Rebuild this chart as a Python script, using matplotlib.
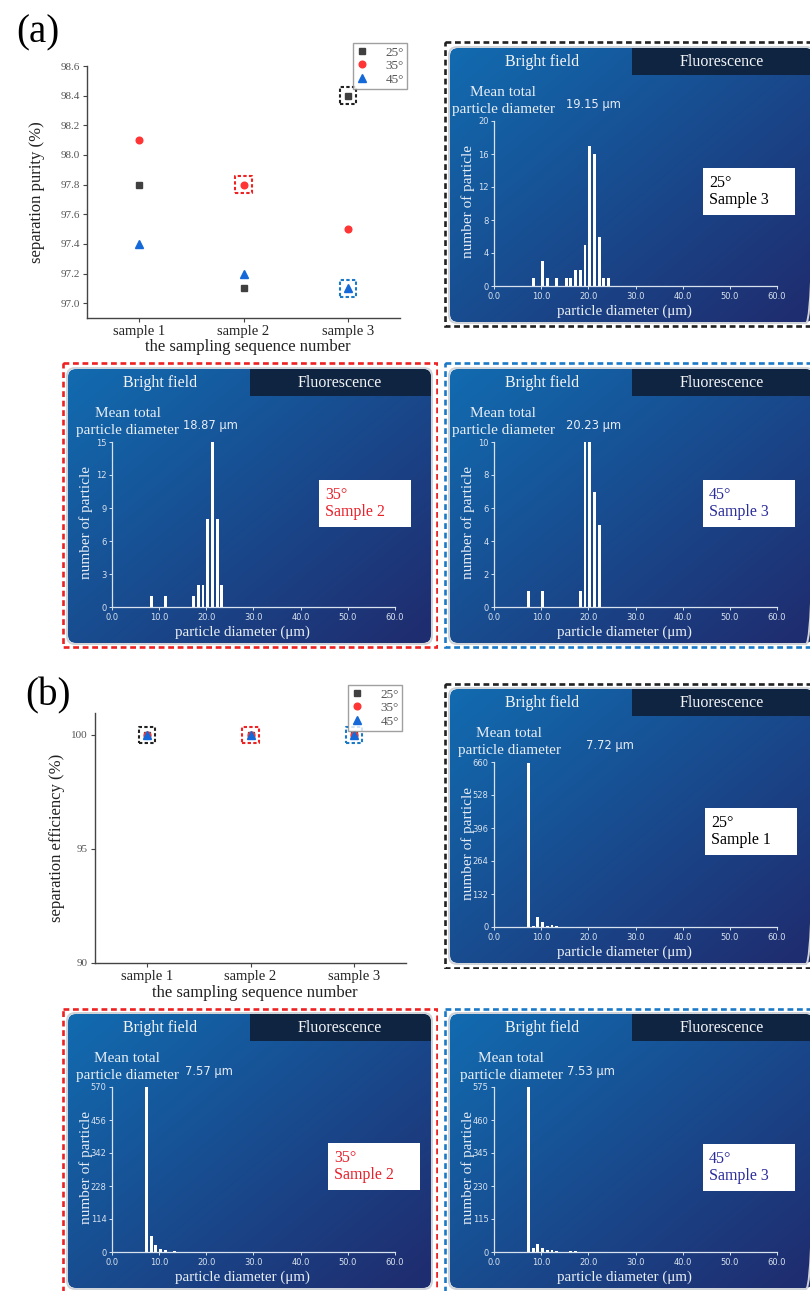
import matplotlib
matplotlib.use('Agg')
import matplotlib.pyplot as plt
import numpy as np
from matplotlib.patches import Rectangle, FancyBboxPatch

# ---- data ----
samples = ['sample 1', 'sample 2', 'sample 3']
angles = ['25°', '35°', '45°']

purity_25 = [97.8, 97.1, 98.4]
purity_35 = [98.1, 97.8, 97.5]
purity_45 = [97.4, 97.2, 97.1]

efficiency_25 = [100, 100, 100]
efficiency_35 = [100, 100, 100]
efficiency_45 = [100, 100, 100]

# particle size histograms (diameter bin in um, count)
diam_a25 = [8, 10, 11, 13, 15, 16, 17, 18, 19, 20, 21, 22, 23, 24]
count_a25 = [1, 3, 1, 1, 1, 1, 2, 2, 5, 17, 16, 6, 1, 1]
diam_a35 = [8, 11, 17, 18, 19, 20, 21, 22, 23]
count_a35 = [1, 1, 1, 2, 2, 8, 15, 8, 2]
diam_a45 = [7, 10, 18, 19, 20, 21, 22]
count_a45 = [1, 1, 1, 10, 10, 7, 5]
diam_b25 = [7, 8, 9, 10, 11, 12, 13, 15, 16, 17, 20, 35, 57]
count_b25 = [655, 4, 42, 22, 4, 9, 6, 2, 2, 2, 1, 1, 1]
diam_b35 = [7, 8, 9, 10, 11, 13]
count_b35 = [570, 57, 25, 12, 6, 2]
diam_b45 = [7, 8, 9, 10, 11, 12, 13, 16, 17, 19]
count_b45 = [575, 14, 28, 13, 8, 6, 3, 4, 2, 1]

yticks_a25 = [0, 4, 8, 12, 16, 20]
yticks_a35 = [0, 3, 6, 9, 12, 15]
yticks_a45 = [0, 2, 4, 6, 8, 10]
yticks_b25 = [0, 132, 264, 396, 528, 660]
yticks_b35 = [0, 114, 228, 342, 456, 570]
yticks_b45 = [0, 115, 230, 345, 460, 575]

mean_a25, mean_a35, mean_a45 = '19.15 μm', '18.87 μm', '20.23 μm'
mean_b25, mean_b35, mean_b45 = '7.72 μm', '7.57 μm', '7.53 μm'

# ---- figure ----
W, H = 810, 1291
fig = plt.figure(figsize=(W / 100, H / 100), dpi=100)
fig.patch.set_facecolor('white')

SERIF = ['Liberation Serif', 'DejaVu Serif']
SANS = ['DejaVu Sans']


def px_axes(x0, y0, x1, y1):
    return fig.add_axes([x0 / W, 1 - y1 / H, (x1 - x0) / W, (y1 - y0) / H])


def scatter_panel(rect, series, ylim, yticks, yfmt, ylabel, ylab_x, xlab_y, highlights, leg_xy):
    ax = px_axes(*rect)
    xs = [1, 2, 3]
    styles = [('s', '#404040', 4.2), ('o', '#ff3535', 4.8), ('^', '#1468d8', 5.4)]
    for vals, ang, (m, c, ms) in zip(series, angles, styles):
        ax.plot(xs, vals, ls='none', marker=m, color=c, ms=ms, label=ang)
    for i, k, col in highlights:
        ax.scatter([xs[i]], [series[k][i]], s=140, marker='s', facecolors='none',
                   edgecolors=col, linewidths=1.5, linestyles=(0, (1.6, 1.1)), zorder=5)
    ax.set_xlim(0.5, 3.5)
    ax.set_ylim(*ylim)
    ax.set_yticks(yticks)
    ax.set_yticklabels([yfmt.format(v) for v in yticks],
                       family=SERIF, fontsize=8, color='#555555')
    ax.set_xticks(xs)
    ax.set_xticklabels(samples, family=SERIF, fontsize=10.5, color='#222222')
    for s in ['top', 'right']:
        ax.spines[s].set_visible(False)
    for s in ['left', 'bottom']:
        ax.spines[s].set_color('#444444')
        ax.spines[s].set_linewidth(1.0)
    ax.tick_params(length=3, width=0.8, color='#444444', pad=2)
    fig.text(ylab_x / W, 1 - ((rect[1] + rect[3]) / 2) / H, ylabel, rotation=90,
             ha='center', va='center', family=SERIF, fontsize=12, color='#222222')
    fig.text(((rect[0] + rect[2]) / 2 + 4) / W, 1 - xlab_y / H, 'the sampling sequence number',
             ha='center', va='center', family=SERIF, fontsize=12, color='#222222')
    leg = ax.legend(loc='upper left', bbox_to_anchor=(leg_xy[0] / W, 1 - leg_xy[1] / H),
                    bbox_transform=fig.transFigure, fancybox=False, edgecolor='#888888',
                    prop={'family': SERIF, 'size': 9.5}, borderpad=0.25, handlelength=0.8,
                    handletextpad=1.4, labelspacing=0.1, borderaxespad=0)
    leg.get_frame().set_linewidth(1.0)
    for t in leg.get_texts():
        t.set_color('#555555')
    return ax


scatter_panel((87, 66, 400, 318), [purity_25, purity_35, purity_45], (96.9, 98.6),
              [97.0, 97.2, 97.4, 97.6, 97.8, 98.0, 98.2, 98.4, 98.6], '{:.1f}',
              'separation purity (%)', 37, 347,
              [(2, 0, '#222222'), (1, 1, '#ee2222'), (2, 2, '#1a7ac8')], (353, 43))
scatter_panel((95, 713, 406, 963), [efficiency_25, efficiency_35, efficiency_45], (90, 100.96),
              [90, 95, 100], '{:d}', 'separation efficiency (%)', 57, 993,
              [(0, 2, '#222222'), (1, 2, '#ee2222'), (2, 2, '#1a7ac8')], (348, 685))

fig.text(38 / W, 1 - 33 / H, '(a)', ha='center', va='center', family=SERIF, fontsize=28)
fig.text(48 / W, 1 - 696 / H, '(b)', ha='center', va='center', family=SERIF, fontsize=28)

# gradient for the microscope-software panels
gy, gx = np.mgrid[0:1:200j, 0:1:260j]
gt = np.clip(0.55 * gx + 0.5 * gy, 0, 1)[..., None]
c0 = np.array([0.07, 0.42, 0.69])
c1 = np.array([0.12, 0.18, 0.44])
grad = c0 + (c1 - c0) * gt


def hist_panel(x0, y0, border, diam, count, yticks, mean_txt, ang, smp, txtcol,
               mean_cx, mean_vx, box_x, box_y):
    pw, ph = 377, 287
    bg = px_axes(x0, y0, x0 + pw, y0 + ph)
    bg.set_xlim(0, pw)
    bg.set_ylim(ph, 0)
    bg.axis('off')
    glow = FancyBboxPatch((6, 6), pw - 12, ph - 11, boxstyle='round,pad=0,rounding_size=8',
                          fc='none', ec='#d0d3d8', lw=1.4)
    bg.add_patch(glow)
    card = FancyBboxPatch((7, 7), pw - 14, ph - 13, boxstyle='round,pad=0,rounding_size=8',
                          fc='none', ec='none')
    bg.add_patch(card)
    im = bg.imshow(grad, extent=(7, pw - 7, ph - 6, 7), origin='upper', aspect='auto',
                   interpolation='bilinear')
    im.set_clip_path(card)
    hdr = Rectangle((189, 7), pw - 7 - 189, 27, fc='#0f2440', ec='none')
    bg.add_patch(hdr)
    hdr.set_clip_path(card)
    bg.text(99, 21, 'Bright field', ha='center', va='center', family=SERIF, fontsize=11.5,
            color='#f2f4f8')
    bg.text(279, 21, 'Fluorescence', ha='center', va='center', family=SERIF, fontsize=11.5,
            color='#f2f4f8')
    bg.text(mean_cx, 60, 'Mean total\nparticle diameter', ha='center', va='center',
            family=SERIF, fontsize=11, color='#e8eef6', linespacing=1.45)
    bg.text(mean_vx, 64, mean_txt, ha='left', va='center', family=SANS, fontsize=8.3,
            color='#e8eef6')
    bg.text(25, 161, 'number of particle', rotation=90, ha='center', va='center',
            family=SERIF, fontsize=11, color='#e8eef6')
    bg.text(181, 270, 'particle diameter (μm)', ha='center', va='center', family=SERIF,
            fontsize=10.8, color='#e8eef6')
    bg.add_patch(Rectangle((box_x, box_y), 92, 47, fc='white', ec='none'))
    bg.text(box_x + 6, box_y + 15, ang, ha='left', va='center', family=SERIF, fontsize=11.5,
            color=txtcol)
    bg.text(box_x + 6, box_y + 32, smp, ha='left', va='center', family=SERIF, fontsize=11.5,
            color=txtcol)
    bg.add_patch(Rectangle((1.5, 1.5), pw - 3, ph - 3, fill=False, ec=border, lw=1.9,
                           ls=(0, (2.2, 1.4))))

    hx = px_axes(x0 + 51, y0 + 80, x0 + 334, y0 + 245)
    hx.patch.set_alpha(0)
    hx.bar(diam, count, width=0.6, align='edge', color='white', edgecolor='none')
    hx.set_xlim(0, 60)
    hx.set_ylim(0, yticks[-1])
    hx.set_xticks(range(0, 61, 10))
    hx.set_xticklabels([f'{v:.1f}' for v in range(0, 61, 10)])
    hx.set_yticks(yticks)
    for s in ['top', 'right']:
        hx.spines[s].set_visible(False)
    for s in ['left', 'bottom']:
        hx.spines[s].set_color('#d8e2ee')
        hx.spines[s].set_linewidth(0.9)
    hx.tick_params(colors='#d8e2ee', labelsize=6, length=2.5, width=0.7, pad=1.5)


BLACK, RED, BLUE = '#222222', '#ee2222', '#1a7ac8'
hist_panel(443, 41, BLACK, diam_a25, count_a25, yticks_a25, mean_a25, '25°', 'Sample 3',
           'black', 60, 123, 260, 127)
hist_panel(61, 362, RED, diam_a35, count_a35, yticks_a35, mean_a35, '35°', 'Sample 2',
           '#e8202a', 67, 122, 258, 118)
hist_panel(443, 362, BLUE, diam_a45, count_a45, yticks_a45, mean_a45, '45°', 'Sample 3',
           '#2b2d9a', 60, 123, 260, 118)
hist_panel(443, 682, BLACK, diam_b25, count_b25, yticks_b25, mean_b25, '25°', 'Sample 1',
           'black', 66, 143, 262, 126)
hist_panel(61, 1007, RED, diam_b35, count_b35, yticks_b35, mean_b35, '35°', 'Sample 2',
           '#e8202a', 66, 124, 267, 136)
hist_panel(443, 1007, BLUE, diam_b45, count_b45, yticks_b45, mean_b45, '45°', 'Sample 3',
           '#2b2d9a', 68, 124, 260, 137)

fig.savefig('out.png', dpi=100)
